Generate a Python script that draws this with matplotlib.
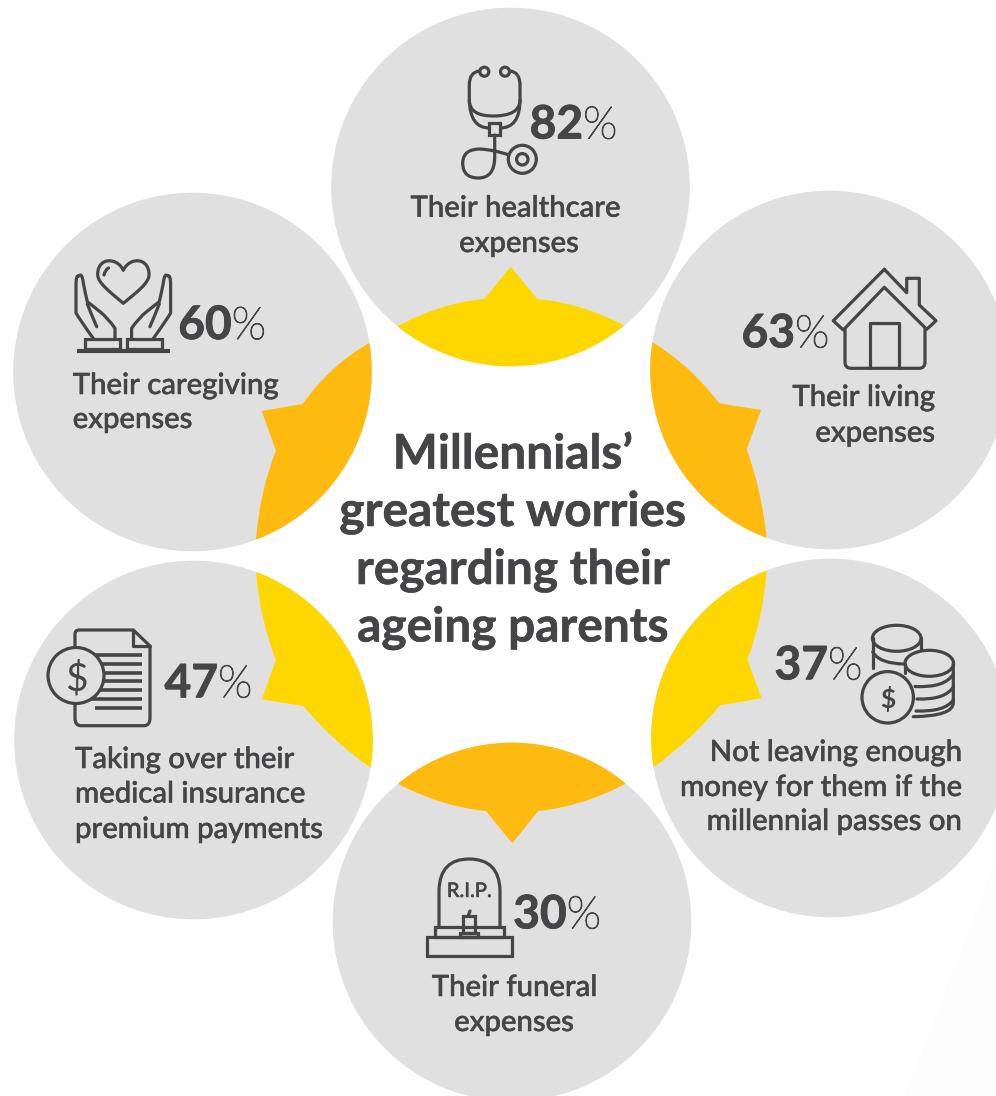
#Import the required packages
import matplotlib
matplotlib.use("Agg")
import matplotlib.pyplot as plt
import matplotlib.patheffects as pe
from matplotlib.patches import Circle, PathPatch, Rectangle, Ellipse, Polygon
from matplotlib.path import Path

#Survey results, clockwise from the top
values = [82, 63, 37, 30, 47, 60]
labels = [
    ["Their healthcare", "expenses"],
    ["Their living", "expenses"],
    ["Not leaving enough", "money for them if the", "millennial passes on"],
    ["Their funeral", "expenses"],
    ["Taking over their", "medical insurance", "premium payments"],
    ["Their caregiving", "expenses"],
]
title_lines = ["Millennials\u2019", "greatest worries", "regarding their", "ageing parents"]

INK = "#454547"
GREY = "#e0e0e0"
YELLOW = "#ffd700"
AMBER = "#ffba10"
LW = 2.3

#Circle centres
centers = [(510.5, 187), (829.5, 370), (830.5, 738), (512, 922), (193.5, 740), (192.5, 372)]
RADIUS = 179.3
colors = [YELLOW, AMBER, YELLOW, AMBER, YELLOW, AMBER]

M, L, C3, C4 = Path.MOVETO, Path.LINETO, Path.CURVE3, Path.CURVE4

#Inner edge of each coloured wedge, closed through the point behind it
wedges = [
    [(M, (396.7, 326.7)), (C3, (440, 303)), (C3, (484.3, 299)), (L, (510.7, 266.7)), (L, (537.3, 299)),
     (C3, (581.7, 303)), (C3, (625, 326)), (L, (625, 380)), (L, (397, 380))],
    [(M, (651.7, 341.7)), (C3, (690, 365)), (C3, (719.3, 403.3)), (L, (761, 410)), (L, (746.7, 449.3)),
     (C3, (761.7, 490)), (C3, (766.7, 538.3)), (L, (640, 560)), (L, (640, 330))],
    [(M, (766.7, 570.7)), (C3, (763, 620)), (C3, (747.3, 659.3)), (L, (761.7, 698.3)), (L, (720, 705.3)),
     (C3, (691.7, 740)), (C3, (653.3, 767.3)), (L, (640, 780)), (L, (640, 550))],
    [(M, (398.3, 784)), (C3, (441.7, 806.7)), (C3, (486, 811)), (L, (512.3, 843.3)), (L, (538.3, 811)),
     (C3, (581.7, 806.7)), (C3, (625, 784)), (L, (625, 730)), (L, (398, 730))],
    [(M, (256, 571.7)), (C3, (260, 620)), (C3, (276, 660)), (L, (261.7, 699.3)), (L, (303.3, 706)),
     (C3, (333, 741.7)), (C3, (370.7, 767.7)), (L, (385, 780)), (L, (385, 550))],
    [(M, (370, 342.7)), (C3, (330, 365)), (C3, (302.7, 404)), (L, (261.7, 411)), (L, (276, 450.7)),
     (C3, (260, 490)), (C3, (256, 539)), (L, (385, 560)), (L, (385, 330))],
]

#Where each big number splits from its percent sign, and its baseline
number_pos = [(583, 138.5), (795, 347.3), (828, 679.3), (566.7, 928.3), (218, 697.3), (231.7, 339)]

#Anchors, alignment and baselines for the captions
label_pos = [
    ([515.5, 519], "center", [216.7, 252]),
    ([935, 935], "right", [406, 441.7]),
    ([961.7, 961.7, 961.7], "right", [761, 796, 830]),
    ([514.5, 514], "center", [996, 1031]),
    ([75, 75, 75], "left", [768, 802.5, 838]),
    ([72.7, 72.7], "left", [394, 428]),
]

plt.rcParams["font.family"] = ["Lato", "DejaVu Sans"]

fig = plt.figure(figsize=(9.96, 10.96), dpi=100)
ax = fig.add_axes([0, 0, 1, 1])
ax.set_xlim(0, 996)
ax.set_ylim(1096, 0)
ax.axis("off")


def stroke(verts, codes=None, closed=False, lw=LW, fill="none", z=5):
    if codes is None:
        codes = [M] + [L] * (len(verts) - 1)
    if closed:
        verts = list(verts) + [verts[0]]
        codes = list(codes) + [Path.CLOSEPOLY]
    patch = PathPatch(Path(verts, codes), facecolor=fill, edgecolor=INK, lw=lw, zorder=z,
                      capstyle="round", joinstyle="round")
    ax.add_patch(patch)


def ring(x, y, r, fill=GREY, lw=LW, z=5):
    ax.add_patch(Circle((x, y), r, facecolor=fill, edgecolor=INK, lw=lw, zorder=z))


#Very faint sheen in the lower right corner of the page
ax.add_patch(Polygon([(996, 860), (996, 1096), (905, 1096)], facecolor="#fdfdfd", edgecolor="none", zorder=0))

#Grey discs with their coloured wedges clipped to the disc
for (cx, cy), col, wedge in zip(centers, colors, wedges):
    disc = Circle((cx, cy), RADIUS, facecolor=GREY, edgecolor="none", zorder=1)
    ax.add_patch(disc)
    codes = [w[0] for w in wedge] + [Path.CLOSEPOLY]
    verts = [w[1] for w in wedge] + [wedge[0][1]]
    # extend the closing edge well behind the wedge so the outer rim comes from the clip
    mx = sum(v[0] for v in verts) / len(verts)
    my = sum(v[1] for v in verts) / len(verts)
    far = (mx + (mx - cx) * 3, my + (my - cy) * 3)
    verts = verts[:-1] + [far, verts[0]]
    codes = codes[:-1] + [L, Path.CLOSEPOLY]
    patch = PathPatch(Path(verts, codes), facecolor=col, edgecolor="none", zorder=2)
    ax.add_patch(patch)
    patch.set_clip_path(disc)

#Centre title
for line, y in zip(title_lines, [468.5, 526, 584, 641.5]):
    ax.text(512.5, y, line, fontsize=34.4, fontweight="bold", color=INK, ha="center", va="baseline", zorder=6,
            path_effects=[pe.withStroke(linewidth=0.4, foreground=INK)])

#Big numbers with a thin percent sign
heavier = [pe.withStroke(linewidth=0.6, foreground=INK)]
thin_sign = [pe.withStroke(linewidth=0.8, foreground=INK)]
for val, (x, y) in zip(values, number_pos):
    ax.text(x, y, str(val), fontsize=33.2, fontweight="bold", color=INK, ha="right", va="baseline", zorder=6,
            path_effects=heavier)
    ax.text(x, y, "%", fontsize=32.5, fontweight="light", color=INK, ha="left", va="baseline", zorder=6,
            path_effects=thin_sign)

#Captions
thicker = [pe.withStroke(linewidth=0.35, foreground=INK)]
for lines, (xs, ha, ys) in zip(labels, label_pos):
    for line, x, y in zip(lines, xs, ys):
        ax.text(x, y, line, fontsize=21.1, fontweight="medium", color=INK, ha=ha, va="baseline", zorder=6,
                path_effects=thicker)

#Stethoscope
ring(484.3, 71.7, 4.5)
ring(505, 71.7, 4.5)
stroke([(479.5, 71), (469.3, 72), (469.3, 85), (469.3, 100), (469.3, 116), (493, 116), (520, 116), (520, 100),
        (520, 85), (520, 72), (510, 71)],
       [M, C3, C3, L, C3, C3, C3, C3, L, C3, C3])
stroke([(469.3, 100), (470, 128), (489.3, 128)], [M, C3, C3])
stroke([(520, 100), (520, 128), (500, 128)], [M, C3, C3])
ax.add_patch(Rectangle((489.3, 123), 10.7, 12, facecolor=GREY, edgecolor=INK, lw=LW, zorder=5))
stroke([(494.7, 135), (494.7, 157), (494.7, 178), (478.3, 178), (462.7, 178), (462.7, 163), (463, 149), (480, 149),
        (495, 150), (509, 155)],
       [M, L, C3, C3, C3, C3, C3, C3, C3, C3])
ring(522.3, 159.3, 14)
ring(522.3, 159.3, 5.7)

#House
stroke([(884.3, 269.3), (833.3, 320.7), (843.3, 330), (884.3, 287.3), (926.7, 329.3), (936, 320.7), (919.3, 305),
        (919.3, 278.3), (906.7, 278.3), (906.7, 292.7), (884.3, 269.3)])
stroke([(845, 329), (845, 362), (845, 368.3), (851, 368.3), (919, 368.3), (925, 368.3), (925, 362), (925, 329)],
       [M, L, C3, C3, L, C3, C3, L])
stroke([(870, 368.3), (870, 322.7), (899.3, 322.7), (899.3, 368.3)])

#Heart held by two hands
stroke([(123.3, 270), (116, 256), (97, 258), (97.7, 275), (98, 283), (110, 292), (123.3, 303.3),
        (137, 292), (149, 283), (149, 275), (149.5, 258), (130.6, 256), (123.3, 270)],
       [M, C4, C4, C4, C4, C4, C4, C4, C4, C4, C4, C4, C4])
stroke([(104, 275), (105, 270), (108.5, 268)], [M, C3, C3])
for sign in (1, -1):
    def mx(x):
        return 123.3 + sign * (x - 123.3)
    stroke([(mx(115), 338), (mx(115), 328.3), (mx(108), 318), (mx(100), 311.7), (mx(93), 306), (mx(87.3), 301.7),
            (mx(85), 292), (mx(83.3), 283), (mx(82), 272), (mx(79), 276), (mx(76), 274), (mx(76), 285), (mx(76), 313),
            (mx(80), 320), (mx(93), 338)],
           [M, L, C3, C3, C3, C3, C3, C3, C3, C3, C3, C3, L, C3, C3])
    stroke([(mx(87.3), 304), (mx(92), 316), (mx(96.7), 326.7)], [M, C3, C3])
ax.add_patch(Rectangle((85, 339), 35, 10.3, facecolor="none", edgecolor=INK, lw=LW, zorder=5))
ax.add_patch(Rectangle((126.7, 339), 35, 10.3, facecolor="none", edgecolor=INK, lw=LW, zorder=5))
ax.plot([77.3, 170], [351, 351], color=INK, lw=3, solid_capstyle="butt", zorder=5)

#Invoice with a dollar badge
stroke([(75, 650), (75, 634), (75, 630), (79.3, 630), (133.3, 630), (150, 646), (150, 718), (150, 725.7), (144, 725.7),
        (81, 725.7), (75, 725.7), (75, 718), (75, 703)],
       [M, L, C3, C3, L, L, L, C3, C3, L, C3, C3, L])
stroke([(133.3, 630), (133.3, 646), (150, 646)])
for y in [655, 664, 672.7, 680.7, 690, 699]:
    ax.plot([90, 142], [y, y], color=INK, lw=2.6, solid_capstyle="butt", zorder=4)
ax.plot([95, 142], [708, 708], color=INK, lw=2.6, solid_capstyle="butt", zorder=4)
ring(76, 675.5, 28)
ax.text(76, 675.5, "$", fontsize=28, color=INK, ha="center", va="center_baseline", zorder=6)

#Stacked coins
ax.add_patch(Ellipse((896.7, 638.3), 48.6, 26, facecolor="none", edgecolor=INK, lw=LW, zorder=5))
stroke([(872.7, 638), (872.7, 668)])
stroke([(920.7, 638), (920.7, 651)])
stroke([(872.7, 652), (880, 664), (905, 664)], [M, C3, C3])
ax.add_patch(Ellipse((929.3, 663.3), 48.6, 26, facecolor=GREY, edgecolor=INK, lw=LW, zorder=5))
stroke([(905, 664), (905, 673)])
stroke([(953.3, 663), (953.3, 703), (953, 716), (913.3, 716.7)], [M, L, C3, C3])
stroke([(915, 686.5), (945, 688), (953.3, 674)], [M, C3, C3])
stroke([(917, 699), (945, 700), (953.3, 687)], [M, C3, C3])
stroke([(916, 711), (945, 712), (953.3, 700)], [M, C3, C3])
ring(887.7, 697.3, 25.7)
ax.text(887.7, 697.5, "$", fontsize=19, fontweight="bold", color=INK, ha="center", va="center_baseline", zorder=6)

#Headstone
stroke([(439, 926.7), (439, 890), (440, 859), (469, 859), (499, 859), (500, 890), (500, 926.7)], [M, L, C3, C3, C3, C3, L])
ax.add_patch(Rectangle((435, 927.3), 69, 10, facecolor="none", edgecolor=INK, lw=LW, zorder=5))
ax.add_patch(Rectangle((426.7, 937.3), 85, 18.7, facecolor="none", edgecolor=INK, lw=LW, zorder=5))
ax.add_patch(Rectangle((462.7, 915.7), 12.3, 17, facecolor="none", edgecolor=INK, lw=LW, zorder=5))
ax.add_patch(Rectangle((460, 932.7), 18.3, 4, facecolor="none", edgecolor=INK, lw=LW, zorder=5))
stroke([(468.5, 915), (470, 911)])
ax.text(469, 897, "R.I.P.", fontsize=14.5, fontweight="medium", color=INK, ha="center", va="baseline", zorder=6,
        path_effects=[pe.withStroke(linewidth=0.3, foreground=INK)])

fig.savefig("out.png", dpi=100)
